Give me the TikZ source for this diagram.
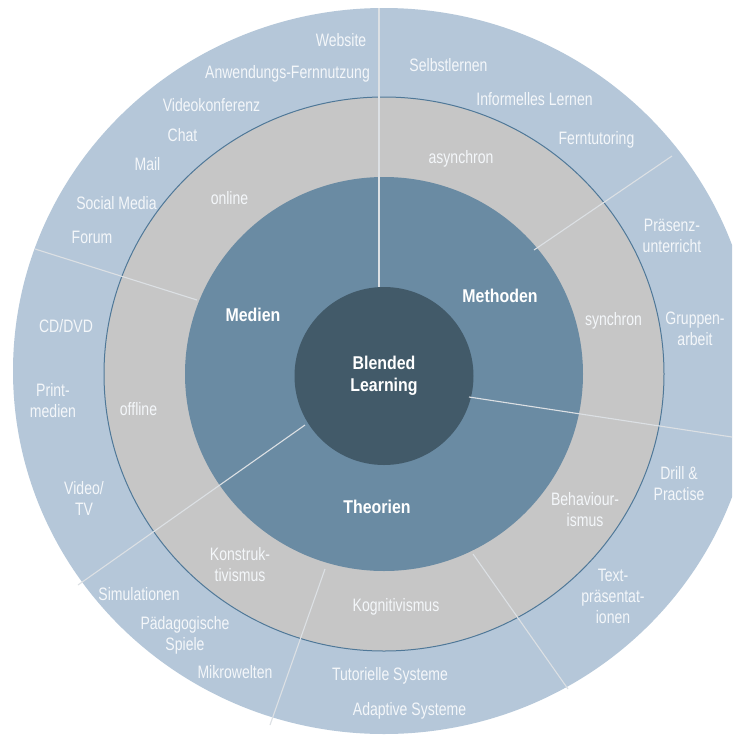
\documentclass[tikz,border=0pt]{standalone}
\usepackage{fontspec}
\setmainfont{Liberation Sans}
\newfontfamily\lightfont{Liberation Sans}[FakeStretch=0.78]
\newfontfamily\boldfont{Liberation Sans}[FakeStretch=0.86]
\definecolor{outerblue}{HTML}{B5C7D9}
\definecolor{ringgray}{HTML}{C6C6C6}
\definecolor{midblue}{HTML}{6A8BA3}
\definecolor{innerblue}{HTML}{425A69}
\definecolor{ringline}{HTML}{4F7898}
\definecolor{divcol}{HTML}{DCE0E4}
\definecolor{txtcol}{HTML}{F4F7FA}
\tikzset{
  lbl/.style={text=txtcol, font=\lightfont\fontsize{18}{21}\selectfont, inner sep=0pt, text height=12.9pt, text depth=0pt},
  lbltwo/.style={text=txtcol, font=\lightfont\fontsize{18}{21}\selectfont, inner sep=0pt, align=center},
  hdr/.style={text=white, font=\boldfont\bfseries\fontsize{18.5}{22}\selectfont, inner sep=0pt, align=center},
  divider/.style={draw=divcol, line width=1.1pt},
}
\begin{document}
\begin{tikzpicture}[x=1pt, y=-1pt]
\useasboundingbox (0,0) rectangle (732,737);
\clip (0,0) rectangle (732,737);
\fill[white] (0,0) rectangle (732,737);
% rings
\coordinate (Oout) at (384,371);
\coordinate (O) at (384,374);
\coordinate (Oin) at (384,376);
\fill[outerblue] (Oout) ellipse [x radius=371pt, y radius=363pt];
\fill[ringgray] (O) ellipse [x radius=280pt, y radius=277pt];
\draw[ringline, line width=1pt] (O) ellipse [x radius=280pt, y radius=277pt];
\fill[midblue] (O) ellipse [x radius=199pt, y radius=197pt];
\fill[innerblue] (Oin) ellipse [x radius=89.5pt, y radius=89pt];
% divider lines
\coordinate (v1) at (379,287);  \coordinate (v2) at (379,8);
\coordinate (ne1) at (534,250); \coordinate (ne2) at (672,156);
\coordinate (w1) at (197,300);  \coordinate (w2) at (35,249);
\coordinate (sw1) at (305,425); \coordinate (sw2) at (78,585);
\coordinate (e1) at (469,397);  \coordinate (e2) at (745,439);
\coordinate (s1) at (325,569);  \coordinate (s2) at (270,725);
\coordinate (se1) at (473,554); \coordinate (se2) at (568,689);
\draw[divider] (v1) -- (v2);
\draw[divider] (ne1) -- (ne2);
\draw[divider] (w1) -- (w2);
\draw[divider] (sw1) -- (sw2);
\draw[divider] (e1) -- (e2);
\draw[divider] (s1) -- (s2);
\draw[divider] (se1) -- (se2);
% outer ring labels: Medien
\node[lbl] (web) at (341,40) {Website};
\node[lbl] (anw) at (287.5,72) {Anwendungs-Fernnutzung};
\node[lbl] (vid) at (211.5,105) {Videokonferenz};
\node[lbl] (chat) at (182.5,135) {Chat};
\node[lbl] (mail) at (147.5,164) {Mail};
\node[lbl] (soc) at (116.5,203) {Social Media};
\node[lbl] (forum) at (92,237) {Forum};
\node[lbl] (cd) at (66,326) {CD/DVD};
\node[lbltwo] (print) at (53,400.5) {Print-\\medien};
\node[lbltwo] (video) at (84,498.5) {Video/\\TV};
% outer ring labels: Methoden
\node[lbl] (selbst) at (448.5,65) {Selbstlernen};
\node[lbl] (inf) at (534.5,99) {Informelles Lernen};
\node[lbl] (fern) at (596.5,138) {Ferntutoring};
\node[lbltwo] (praes) at (672,235.5) {Präsenz-\\unterricht};
\node[lbltwo] (grupp) at (695,329) {Gruppen-\\arbeit};
% outer ring labels: Theorien
\node[lbltwo] (drill) at (679,484) {Drill \&\\Practise};
\node[lbltwo] (textp) at (613,596) {Text-\\präsentat-\\ionen};
\node[lbl] (tut) at (390,674) {Tutorielle Systeme};
\node[lbl] (adapt) at (409.5,709) {Adaptive Systeme};
\node[lbl] (sim) at (139,594) {Simulationen};
\node[lbltwo] (paed) at (185,635.5) {Pädagogische\\Spiele};
\node[lbl] (mikro) at (235,672) {Mikrowelten};
% gray ring labels
\node[lbl] (online) at (229.5,198) {online};
\node[lbl] (offline) at (138.5,409) {offline};
\node[lbl] (async) at (461,157) {asynchron};
\node[lbl] (sync) at (613.5,319) {synchron};
\node[lbltwo] (behav) at (585,510) {Behaviour-\\ismus};
\node[lbl] (kogn) at (396,605) {Kognitivismus};
\node[lbltwo] (konst) at (240,565) {Konstruk-\\tivismus};
% headings
\node[hdr] (medien) at (253,315) {Medien};
\node[hdr] (methoden) at (500,296) {Methoden};
\node[hdr] (theorien) at (377,507) {Theorien};
\node[hdr] (blended) at (384,376) {Blended\\Learning};
\end{tikzpicture}
\end{document}
